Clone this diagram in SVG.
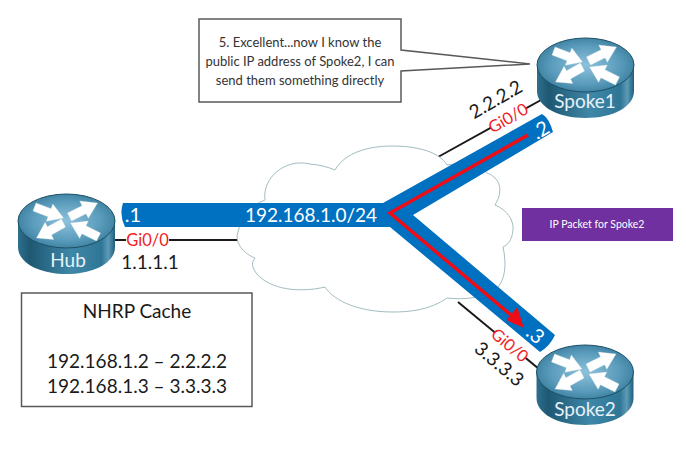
<svg xmlns="http://www.w3.org/2000/svg" width="686" height="455" viewBox="0 0 686 455">
<style>
text{font-family:"Lato","Liberation Sans",sans-serif}
.box{fill:#fff;stroke:#595959;stroke-width:1.5}
.wire{fill:none;stroke:#1a1a1a;stroke-width:2}
.ip{font-size:19px;fill:#1a1a1a;text-anchor:middle}
.gi{font-size:16.500px;fill:#f01c24;text-anchor:middle}
.w{font-size:20px;fill:#fff;text-anchor:middle}
.rl{font-size:19px;fill:#e6f2f8;text-anchor:middle}
.cache{font-size:19px;fill:#1a1a1a;text-anchor:middle}
.call{font-size:13px;fill:#333;text-anchor:middle}
</style>
<defs>
<linearGradient id="side" x1="0" x2="1" y1="0" y2="0">
<stop offset="0" stop-color="#2f6f8d"/><stop offset=".12" stop-color="#1e5873"/><stop offset=".55" stop-color="#3f87a8"/><stop offset=".86" stop-color="#2f7696"/><stop offset=".93" stop-color="#5c9ab6"/><stop offset="1" stop-color="#1f5f7c"/>
</linearGradient>
<radialGradient id="top" cx=".5" cy=".5" r=".6">
<stop offset="0" stop-color="#8cc2dc"/><stop offset=".6" stop-color="#5a9bbb"/><stop offset="1" stop-color="#2f7392"/>
</radialGradient>
<polygon id="arr" points="0,-.17 .52,-.17 .52,-.36 1,0 .52,.36 .52,.17 0,.17" fill="#fff" stroke="#dfe6ea" stroke-width=".01"/>
<g id="router">
<path d="M-48.500,0V26C-48.500,42 -27,53 0,53S48.500,42 48.500,26V0Z" fill="url(#side)"/>
<ellipse cx="0" cy="0" rx="48.500" ry="27" fill="url(#top)" stroke="#1d5068" stroke-width="1"/>
<use href="#arr" transform="matrix(29 11 -9 24 -32 -14)"/>
<use href="#arr" transform="matrix(28 -14 12 24 3 -4)"/>
<use href="#arr" transform="matrix(-27 15 12 24 -3 2)"/>
<use href="#arr" transform="matrix(-28 -14 -12 24 32 16)"/>
</g>
</defs>
<rect width="686" height="455" fill="#fff"/>
<g id="connectors">
<line class="wire" x1="112" y1="240" x2="240" y2="240"/>
<line class="wire" x1="438" y1="157" x2="541" y2="100"/>
<line class="wire" x1="458" y1="302" x2="539" y2="369"/>
</g>
<g id="cloud">
<path d="M265,200C262,178 285,158 310,164C320,165 328,167 335,170C345,152 370,146 392,146C420,146 440,153 447,165C465,162 482,166 487,173C500,178 504,190 495,205C507,210 514,220 513,230C512,240 508,245 503,247C507,265 505,280 497,288C485,298 465,300 447,298C430,310 410,312 393,312C360,312 335,302 325,287C300,293 270,290 256,273C251,265 252,262 255,258C240,252 235,240 238,232C240,222 250,205 265,200Z" fill="#fff" stroke="#a3bcc0" stroke-width="1"/>
</g>
<g id="subnet">
<path d="M123,203H383L542,114Q549,118 553,132L413,215L555,335Q550,346 540,352L390,227H125Q119,215 123,203Z" fill="#0070c0"/>
<text x="133" y="222" class="w">.1</text>
<text x="311" y="222" class="w" style="font-size:19px">192.168.1.0/24</text>
<text class="w" transform="translate(544 136) rotate(-30)">.2</text>
<text class="w" transform="translate(531 340) rotate(40)">.3</text>
</g>
<g id="packet-path">
<path d="M528,135L390,213L512,316" fill="none" stroke="#ee0d16" stroke-width="3.500"/>
<polygon points="523,327 507,320 517,308" fill="#ee0d16" stroke="#ee0d16" stroke-width="1"/>
</g>
<g id="hub">
<use href="#router" x="66.500" y="221"/>
<text x="68" y="267" class="rl">Hub</text>
<rect x="126" y="233" width="43" height="14" fill="#fff"/>
<text x="147.500" y="246" class="gi">Gi0/0</text>
<text x="150" y="269" class="ip">1.1.1.1</text>
</g>
<g id="spoke1">
<use href="#router" x="585.500" y="65"/>
<text x="585" y="108" class="rl">Spoke1</text>
<g transform="translate(508 118) rotate(-30)">
<rect x="-20" y="-8" width="40" height="15" fill="#fff"/>
<text y="6" class="gi">Gi0/0</text>
</g>
<text class="ip" transform="translate(499 105) rotate(-30)">2.2.2.2</text>
</g>
<g id="spoke2">
<use href="#router" x="585" y="372"/>
<text x="585" y="416" class="rl">Spoke2</text>
<g transform="translate(510 345) rotate(40)">
<rect x="-20" y="-8" width="40" height="15" fill="#fff"/>
<text y="6" class="gi">Gi0/0</text>
</g>
<text class="ip" transform="translate(495 369) rotate(40)">3.3.3.3</text>
</g>
<g id="nhrp-cache">
<rect class="box" x="21.500" y="293" width="230.500" height="113.500"/>
<text x="137" y="318" class="cache">NHRP Cache</text>
<text x="137" y="368" class="cache">192.168.1.2 – 2.2.2.2</text>
<text x="137" y="393" class="cache">192.168.1.3 – 3.3.3.3</text>
</g>
<g id="callout">
<path class="box" d="M199,19H401V50L530,64L401,71V102H199Z"/>
<text x="300" y="47" class="call">5. Excellent...now I know the</text>
<text x="300" y="66" class="call">public IP address of Spoke2, I can</text>
<text x="300" y="85" class="call">send them something directly</text>
</g>
<g id="ip-packet">
<rect x="522" y="208" width="151" height="33" fill="#7030a0"/>
<text x="597" y="228" style="font-size:10.500px" fill="#fff" text-anchor="middle">IP Packet for Spoke2</text>
</g>
</svg>
